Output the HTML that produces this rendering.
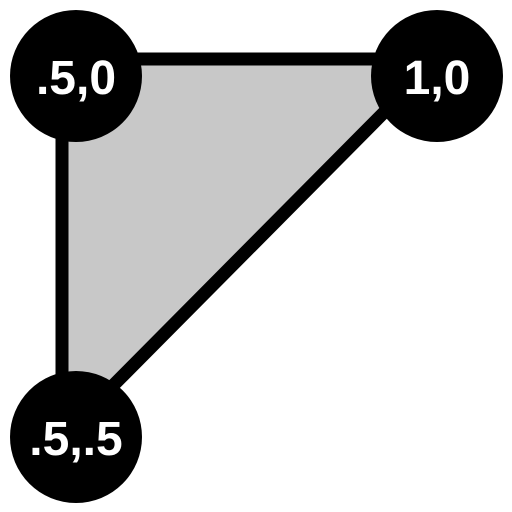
<!DOCTYPE html>
<html><head><meta charset="utf-8"><style>
html,body{margin:0;padding:0;background:#fff;width:512px;height:512px;overflow:hidden}
svg text{font-family:"Liberation Sans",sans-serif;font-weight:bold;fill:#fff}
</style></head><body>
<svg id="chart" width="512" height="512" viewBox="0 0 512 512"></svg>
<script>
const labels = [".5,0", "1,0", ".5,.5"];
const xs = [0.5, 1, 0.5];
const ys = [0, 0, 0.5];
const NS = "http://www.w3.org/2000/svg";
const svg = document.getElementById("chart");
function sx(v){ return 76 + (v - 0.5) / 0.5 * 361; }
function sy(v){ return 76 + v / 0.5 * 361; }
function lx(v){ return 62 + (v - 0.5) / 0.5 * 375; }
function ly(v){ return 59 + v / 0.5 * 378; }
const poly = document.createElementNS(NS, "polygon");


poly.setAttribute("points", xs.map((x, i) => lx(x) + "," + ly(ys[i])).join(" "));
poly.setAttribute("fill", "#c8c8c8");
poly.setAttribute("stroke", "#000");
poly.setAttribute("stroke-width", "13");
poly.setAttribute("stroke-linejoin", "miter");
svg.appendChild(poly);
labels.forEach((lab, i) => {
  const c = document.createElementNS(NS, "circle");
  
  
  c.setAttribute("cx", sx(xs[i]));
  c.setAttribute("cy", sy(ys[i]));
  c.setAttribute("r", 66);
  c.setAttribute("fill", "#000");
  svg.appendChild(c);
  const t = document.createElementNS(NS, "text");
  
  
  t.setAttribute("x", sx(xs[i]));
  t.setAttribute("y", sy(ys[i]) + 18);
  t.setAttribute("text-anchor", "middle");
  t.setAttribute("font-size", "48");
  t.textContent = lab;
  svg.appendChild(t);
});
</script>
</body></html>
